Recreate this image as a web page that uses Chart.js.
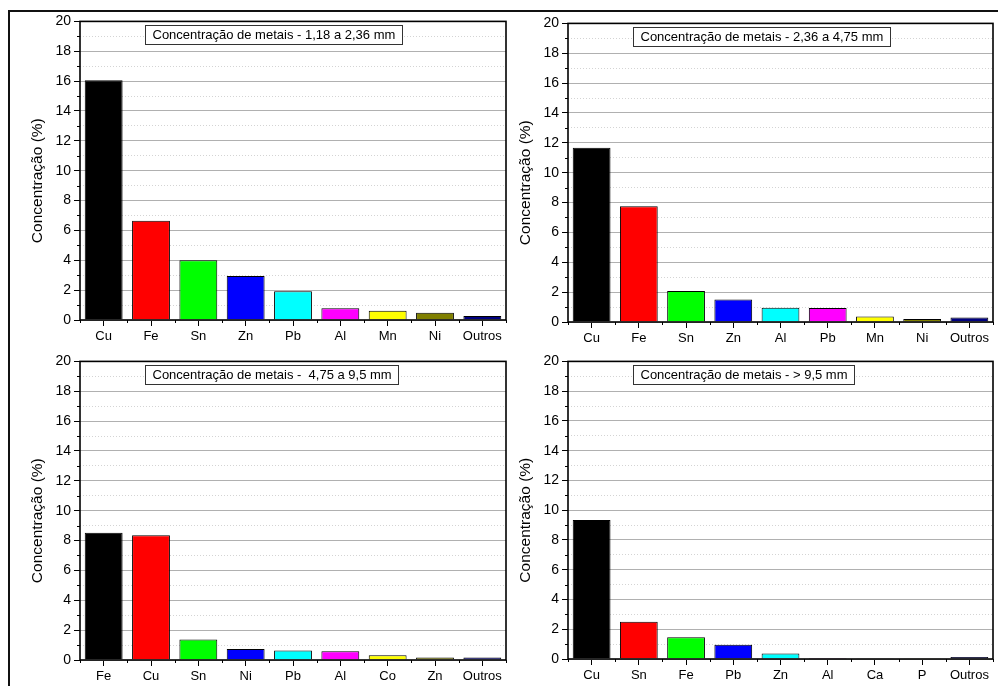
<!DOCTYPE html>
<html>
<head>
<meta charset="utf-8">
<script src="https://cdn.jsdelivr.net/npm/chart.js@4.4.1/dist/chart.umd.min.js"></script>
<style>
  html, body { margin: 0; padding: 0; background: #fff; width: 998px; height: 686px; overflow: hidden; }
  .frame { position: absolute; left: 8px; top: 10px; width: 1200px; height: 900px;
           border-left: 2px solid #111; border-top: 2px solid #111; }
  .panel { position: absolute; }
  .panel canvas { display: block; }
</style>
</head>
<body>
<div class="frame"></div>
<div class="panel" style="left:12px;top:10px;width:499px;height:337px"><canvas id="c1"></canvas></div>
<div class="panel" style="left:500px;top:12px;width:498px;height:337px"><canvas id="c2"></canvas></div>
<div class="panel" style="left:12px;top:350px;width:499px;height:337px"><canvas id="c3"></canvas></div>
<div class="panel" style="left:500px;top:350px;width:498px;height:336px"><canvas id="c4"></canvas></div>

<script>
// Faixa 1,18 a 2,36 mm
const tituloA = 'Concentração de metais - 1,18 a 2,36 mm';
const elementosA = ['Cu', 'Fe', 'Sn', 'Zn', 'Pb', 'Al', 'Mn', 'Ni', 'Outros'];
const valoresA = [16.05, 6.65, 4.00, 2.94, 1.93, 0.78, 0.62, 0.49, 0.26];

// Faixa 2,36 a 4,75 mm
const tituloB = 'Concentração de metais - 2,36 a 4,75 mm';
const elementosB = ['Cu', 'Fe', 'Sn', 'Zn', 'Al', 'Pb', 'Mn', 'Ni', 'Outros'];
const valoresB = [11.67, 7.75, 2.08, 1.50, 0.95, 0.93, 0.37, 0.20, 0.30];

// Faixa 4,75 a 9,5 mm
const tituloC = 'Concentração de metais -  4,75 a 9,5 mm';
const elementosC = ['Fe', 'Cu', 'Sn', 'Ni', 'Pb', 'Al', 'Co', 'Zn', 'Outros'];
const valoresC = [8.52, 8.35, 1.38, 0.73, 0.64, 0.58, 0.32, 0.17, 0.16];

// Faixa > 9,5 mm
const tituloD = 'Concentração de metais - > 9,5 mm';
const elementosD = ['Cu', 'Sn', 'Fe', 'Pb', 'Zn', 'Al', 'Ca', 'P', 'Outros'];
const valoresD = [9.34, 2.50, 1.47, 0.95, 0.37, 0.07, 0.02, 0.01, 0.13];

// Cores por posição da barra
const coresBarras = ['#000000', '#FF0000', '#00FF00', '#0000FF', '#00FFFF', '#FF00FF', '#FFFF00', '#808000', '#000080'];

// Eixo Y
const eixoYTitulo = 'Concentração (%)';
const eixoYMax = 20;
const eixoYPassoRotulo = 2;

const FONTE = '"Liberation Sans", Arial, Helvetica, sans-serif';
Chart.defaults.font.family = FONTE;
Chart.defaults.color = '#000';

const ehMaior = (c) => c.tick && Math.round(c.tick.value) % eixoYPassoRotulo === 0;

// Moldura, marcas menores, título do eixo Y e caixa de legenda
const decoracao = {
  id: 'decoracao',
  afterDraw(chart, args, opts) {
    const { ctx, chartArea: a, scales: { x, y } } = chart;
    ctx.save();

    // marcas menores no eixo Y
    ctx.strokeStyle = '#000';
    ctx.lineWidth = 1;
    for (let v = 1; v < eixoYMax; v += eixoYPassoRotulo) {
      const py = Math.round(y.getPixelForValue(v)) + 0.5;
      ctx.beginPath(); ctx.moveTo(a.left - 3, py); ctx.lineTo(a.left, py); ctx.stroke();
    }
    // marcas menores no eixo X (limites das categorias)
    const n = chart.data.labels.length;
    for (let i = 0; i <= n; i++) {
      const px = Math.round(x.getPixelForValue(i - 0.5)) + 0.5;
      ctx.beginPath(); ctx.moveTo(px, a.bottom); ctx.lineTo(px, a.bottom + 3); ctx.stroke();
    }

    // moldura da área do gráfico
    ctx.lineWidth = 1.6;
    ctx.strokeStyle = '#000';
    ctx.strokeRect(a.left, a.top, a.right - a.left, a.bottom - a.top);

    // título do eixo Y
    ctx.fillStyle = '#000';
    ctx.font = '15.5px ' + FONTE;
    ctx.textAlign = 'center';
    ctx.textBaseline = 'middle';
    ctx.translate(a.left - 42, (a.top + a.bottom) / 2 + 10);
    ctx.rotate(-Math.PI / 2);
    ctx.fillText(eixoYTitulo, 0, 0);
    ctx.setTransform(1, 0, 0, 1, 0, 0);

    // caixa de legenda
    ctx.font = '13px ' + FONTE;
    const tw = ctx.measureText(opts.texto).width;
    const bx = Math.round(a.left + 65) + 0.5;
    const by = Math.round(a.top + 4) + 0.5;
    const bw = Math.round(tw + 14);
    const bh = 19;
    ctx.fillStyle = '#fff';
    ctx.fillRect(bx, by, bw, bh);
    ctx.strokeStyle = '#333';
    ctx.lineWidth = 1;
    ctx.strokeRect(bx, by, bw, bh);
    ctx.fillStyle = '#000';
    ctx.textAlign = 'left';
    ctx.textBaseline = 'middle';
    ctx.fillText(opts.texto, bx + 7, by + bh / 2 + 0.5);

    ctx.restore();
  }
};

function criarPainel(id, rotulos, valores, titulo) {
  return new Chart(document.getElementById(id), {
    type: 'bar',
    data: {
      labels: rotulos,
      datasets: [{
        data: valores,
        backgroundColor: coresBarras,
        borderColor: '#000',
        borderWidth: 1,
        borderSkipped: 'bottom',
        barPercentage: 0.8,
        categoryPercentage: 1.0
      }]
    },
    options: {
      responsive: true,
      maintainAspectRatio: false,
      animation: false,
      events: [],
      layout: { padding: { top: 9, right: 5, left: 0, bottom: 0 } },
      plugins: {
        legend: { display: false },
        tooltip: { enabled: false },
        decoracao: { texto: titulo }
      },
      scales: {
        x: {
          offset: true,
          grid: { display: true, drawOnChartArea: false, offset: false, tickLength: 6, tickColor: '#000', lineWidth: 1 },
          border: { display: false },
          ticks: { color: '#000', font: { size: 13 }, padding: 3, autoSkip: false, maxRotation: 0 },
          afterFit: (s) => { s.height = 27; }
        },
        y: {
          min: 0,
          max: eixoYMax,
          ticks: {
            stepSize: 1,
            autoSkip: false,
            color: '#000',
            font: { size: 14 },
            padding: 3,
            callback: (v) => (Math.round(v) % eixoYPassoRotulo === 0 ? String(v) : '')
          },
          grid: {
            color: (c) => (ehMaior(c) ? '#b0b0b0' : '#d4d4d4'),
            lineWidth: 1,
            tickLength: 6,
            tickColor: (c) => (ehMaior(c) ? '#000' : 'rgba(0,0,0,0)')
          },
          border: {
            display: false,
            dash: (c) => (c.tick && !ehMaior(c) ? [1, 2] : [])
          },
          afterFit: (s) => { s.width = 68; }
        }
      }
    },
    plugins: [decoracao]
  });
}

criarPainel('c1', elementosA, valoresA, tituloA);
criarPainel('c2', elementosB, valoresB, tituloB);
criarPainel('c3', elementosC, valoresC, tituloC);
criarPainel('c4', elementosD, valoresD, tituloD);
</script>
</body>
</html>
